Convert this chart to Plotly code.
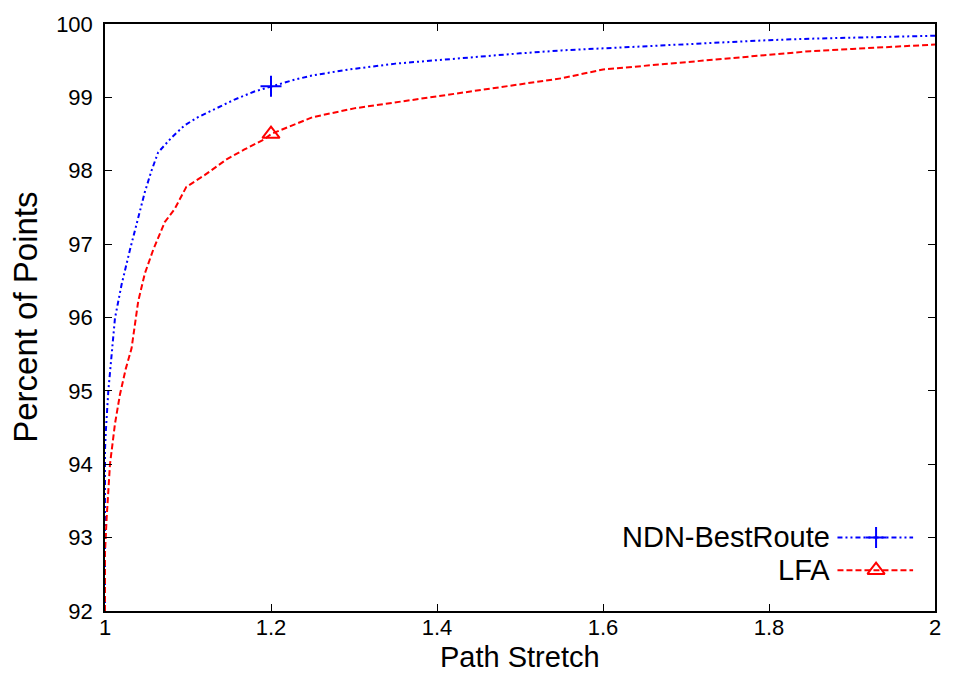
import plotly.graph_objects as go

# CDF of path stretch for the two forwarding strategies
ndn_x = [1.0, 1.0, 1.001, 1.004, 1.012, 1.020, 1.030, 1.040, 1.048, 1.056, 1.064, 1.080,
         1.096, 1.112, 1.128, 1.156, 1.18, 1.2, 1.228, 1.25, 1.294, 1.35, 1.4, 1.45,
         1.5, 1.55, 1.6, 1.65, 1.7, 1.75, 1.8, 1.85, 1.9, 1.95, 2.0]
ndn_y = [92.0, 94.2, 94.45, 95.0, 95.99, 96.45, 96.92, 97.35, 97.71, 98.0, 98.25, 98.45,
         98.62, 98.73, 98.82, 98.97, 99.08, 99.15, 99.24, 99.30, 99.38, 99.46, 99.51, 99.56,
         99.60, 99.64, 99.67, 99.70, 99.73, 99.76, 99.78, 99.80, 99.81, 99.83, 99.84]

lfa_x = [1.0, 1.0, 1.002, 1.006, 1.012, 1.018, 1.025, 1.032, 1.040, 1.048, 1.058, 1.072,
         1.084, 1.098, 1.12, 1.147, 1.168, 1.192, 1.2, 1.228, 1.25, 1.3, 1.35, 1.4, 1.45,
         1.5, 1.55, 1.6, 1.65, 1.7, 1.75, 1.8, 1.85, 1.9, 1.95, 2.0]
lfa_y = [92.0, 92.8, 93.27, 94.0, 94.55, 94.95, 95.3, 95.58, 96.22, 96.6, 96.92, 97.30,
         97.48, 97.78, 97.94, 98.16, 98.29, 98.43, 98.50, 98.63, 98.73, 98.85, 98.93, 99.01,
         99.09, 99.17, 99.26, 99.38, 99.43, 99.49, 99.54, 99.59, 99.63, 99.66, 99.69, 99.72]

# one point symbol per curve, at this stretch value
mark_x = 1.2

x_ticks = [1, 1.2, 1.4, 1.6, 1.8, 2]
x_labels = ["1", "1.2", "1.4", "1.6", "1.8", "2"]
y_ticks = [92, 93, 94, 95, 96, 97, 98, 99, 100]
y_labels = [str(v) for v in y_ticks]

series = [
    ("NDN-BestRoute", ndn_x, ndn_y, "#0000ff", "5px,3px,2px,3px,2px,3px", "cross-thin-open", 15),
    ("LFA", lfa_x, lfa_y, "#ff0000", "6px,3px", "triangle-up-open", 15),
]

FONT = "Liberation Sans, Arial, sans-serif"
fig = go.Figure()

for name, xs, ys, color, dash, sym, msize in series:
    fig.add_trace(go.Scatter(x=xs, y=ys, mode="lines", name=name, showlegend=False,
                             line=dict(color=color, width=2, dash=dash)))
    i = xs.index(mark_x)
    fig.add_trace(go.Scatter(x=[xs[i]], y=[ys[i]], mode="markers", showlegend=False,
                             marker=dict(symbol=sym, size=msize, color=color,
                                         line=dict(color=color, width=2))))

# key in the lower right: label, then line sample with its symbol
key_rows = [0.1254, 0.0695]
for (name, xs, ys, color, dash, sym, msize), ky in zip(series, key_rows):
    fig.add_trace(go.Scatter(x=[0.8825, 0.9736], y=[ky, ky], mode="lines", xaxis="x2", yaxis="y2",
                             showlegend=False, hoverinfo="skip",
                             line=dict(color=color, width=2, dash=dash)))
    fig.add_trace(go.Scatter(x=[0.929], y=[ky], mode="markers", xaxis="x2", yaxis="y2",
                             showlegend=False, hoverinfo="skip",
                             marker=dict(symbol=sym, size=msize, color=color,
                                         line=dict(color=color, width=2))))
    fig.add_annotation(x=0.876, y=ky, xref="paper", yref="paper", text=name, showarrow=False,
                       xanchor="right", yanchor="middle",
                       font=dict(family=FONT, size=29, color="black"))

axis_common = dict(showgrid=False, zeroline=False, showline=True, linecolor="black",
                   linewidth=1.5, mirror="allticks", ticks="inside", ticklen=7,
                   tickwidth=1.2, tickcolor="black",
                   tickfont=dict(family=FONT, size=22, color="black"))

fig.update_layout(
    width=953, height=676,
    margin=dict(l=105, r=12, t=20, b=65),
    paper_bgcolor="white", plot_bgcolor="white",
    xaxis=dict(range=[1, 2], tickvals=x_ticks, ticktext=x_labels,
               ticklabelstandoff=-4, **axis_common),
    yaxis=dict(range=[92, 100], tickvals=y_ticks, ticktext=y_labels,
               ticklabelstandoff=6, **axis_common),
    xaxis2=dict(range=[0, 1], overlaying="x", visible=False, fixedrange=True),
    yaxis2=dict(range=[0, 1], overlaying="y", visible=False, fixedrange=True),
)

fig.add_annotation(x=0.5, y=-0.078, xref="paper", yref="paper", text="Path Stretch",
                   showarrow=False, xanchor="center", yanchor="middle", borderpad=0,
                   font=dict(family=FONT, size=29, color="black"))
fig.add_annotation(x=-0.096, y=0.5, xref="paper", yref="paper", text="Percent of Points",
                   showarrow=False, xanchor="center", yanchor="middle", textangle=-90,
                   font=dict(family=FONT, size=33, color="black"))

fig.write_html("out.html")
